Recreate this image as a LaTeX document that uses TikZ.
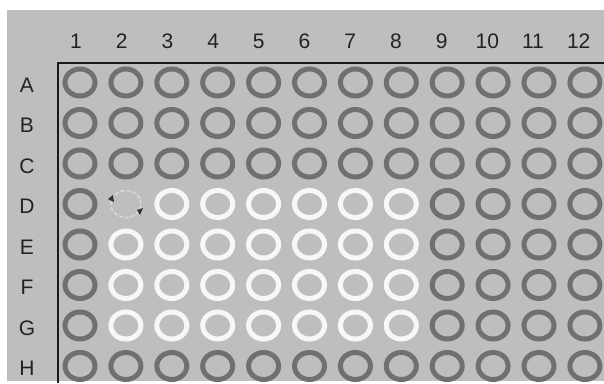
\documentclass[tikz,border=0pt]{standalone}
\usepackage{fontspec}
\setmainfont{Liberation Sans}
\usetikzlibrary{shapes.geometric}
\definecolor{bggray}{HTML}{BEBEBE}
\definecolor{darkring}{HTML}{707070}
\definecolor{whitering}{HTML}{F7F7F7}
\definecolor{faintring}{HTML}{D8D8D8}
\definecolor{labeltext}{HTML}{222222}
\tikzset{
  well/.style={ellipse, draw=darkring, line width=5pt, minimum width=30pt, minimum height=27pt, inner sep=0pt},
  litwell/.style={well, draw=whitering},
  emptywell/.style={ellipse, draw=faintring, line width=1.6pt, dash pattern=on 4pt off 2pt, minimum width=30pt, minimum height=27pt, inner sep=0pt},
  lbl/.style={text=labeltext, font=\fontsize{21}{21}\selectfont, inner sep=0pt},
  frame/.style={draw=black!90, line width=2pt},
  marker/.style={fill=black!80, draw=none}
}
\begin{document}
\begin{tikzpicture}[x=1pt,y=-1pt]
\useasboundingbox (0,0) rectangle (604,383);
\fill[white] (0,0) rectangle (604,383);
\fill[bggray] (7,10) rectangle (604,381);
% column labels
\foreach \c in {1,...,12}{
  \node[lbl] (col-\c) at ({76+(\c-1)*45.7},41) {\c};
}
% row labels
\foreach \r [count=\i from 0] in {A,B,C,D,E,F,G,H}{
  \node[lbl] (row-\r) at (27,{85+\i*40.5}) {\r};
}
% frame
\coordinate (frameTR) at (604,63);
\coordinate (frameTL) at (58,63);
\coordinate (frameBL) at (58,383);
\draw[frame] (frameTR) -- (frameTL) -- (frameBL);
% wells
\foreach \r [count=\i from 0] in {A,B,C,D,E,F,G,H}{
  \foreach \c in {1,...,12}{
    \pgfmathtruncatemacro{\lit}{((\i>=3) && (\i<=6) && (\c>=2) && (\c<=8)) ? 1 : 0}
    \pgfmathtruncatemacro{\isempty}{((\i==3) && (\c==2)) ? 1 : 0}
    \ifnum\isempty=1
      \node[emptywell] (w-\r-\c) at ({80+(\c-1)*45.9},{82.5+\i*40.5}) {};
    \else
      \ifnum\lit=1
        \node[litwell] (w-\r-\c) at ({80+(\c-1)*45.9},{82.5+\i*40.5}) {};
      \else
        \node[well] (w-\r-\c) at ({80+(\c-1)*45.9},{82.5+\i*40.5}) {};
      \fi
    \fi
  }
}
% markers on the empty well D2
\fill[marker] (108,199) -- (113,195) -- (114,202) -- cycle;
\fill[marker] (137,210) -- (143,208) -- (140,215) -- cycle;
\end{tikzpicture}
\end{document}
